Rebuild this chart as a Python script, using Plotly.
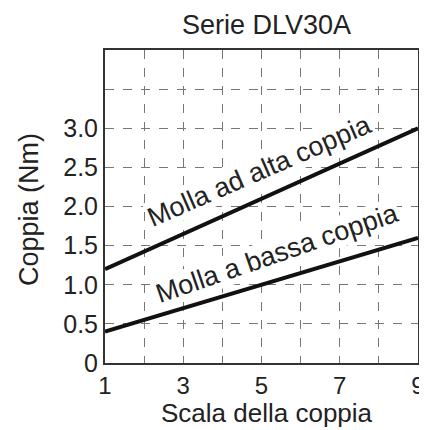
import plotly.graph_objects as go

scale_x = [1, 9]
high_torque = [1.2, 3.0]
low_torque = [0.4, 1.6]

x_tickvals = [1, 2, 3, 4, 5, 6, 7, 8, 9]
x_ticktext = ["1", "", "3", "", "5", "", "7", "", "9"]
y_tickvals = [0, 0.5, 1.0, 1.5, 2.0, 2.5, 3.0, 3.5, 4.0]
y_ticktext = ["0", "0.5", "1.0", "1.5", "2.0", "2.5", "3.0", "", ""]

label_high = "Molla ad alta coppia"
label_low = "Molla a bassa coppia"
title_text = "Serie DLV30A"
x_title = "Scala della coppia"
y_title = "Coppia (Nm)"

FONT = "Liberation Sans, Arial, sans-serif"
TXT = "#222222"

# page body has an 8px margin; size the figure so it fills the window
OFF = 8
W, H = 427 - OFF, 430 - OFF
L, R, T, B = 105 - OFF, W - (418 - OFF), 50 - OFF, H - (363 - OFF)
pw, ph = W - L - R, H - T - B


def px(xp):
    return (xp - OFF - L) / pw


def py(yp):
    return (H - B - (yp - OFF)) / ph


fig = go.Figure()
fig.add_trace(go.Scatter(x=scale_x, y=high_torque, mode="lines",
                         line=dict(color="#111111", width=4), showlegend=False))
fig.add_trace(go.Scatter(x=scale_x, y=low_torque, mode="lines",
                         line=dict(color="#111111", width=4), showlegend=False))

fig.add_annotation(x=4.94, y=2.45, text=label_high, showarrow=False, textangle=-23.5,
                   font=dict(size=27, color=TXT, family=FONT), bgcolor="white", borderpad=0)
fig.add_annotation(x=5.42, y=1.40, text=label_low, showarrow=False, textangle=-19,
                   font=dict(size=27, color=TXT, family=FONT), bgcolor="white", borderpad=0)

fig.add_annotation(xref="paper", yref="paper", x=px(266), y=py(25), text=title_text,
                   showarrow=False, xanchor="center", yanchor="middle",
                   font=dict(size=27, color=TXT, family=FONT))
fig.add_annotation(xref="paper", yref="paper", x=px(267), y=py(413), text=x_title,
                   showarrow=False, xanchor="center", yanchor="middle",
                   font=dict(size=26, color=TXT, family=FONT))
fig.add_annotation(xref="paper", yref="paper", x=px(29), y=py(210), text=y_title,
                   showarrow=False, xanchor="center", yanchor="middle", textangle=-90,
                   font=dict(size=27, color=TXT, family=FONT))

fig.update_layout(
    width=W, height=H,
    margin=dict(l=L, r=R, t=T, b=B, autoexpand=False),
    paper_bgcolor="white", plot_bgcolor="white",
    font=dict(family=FONT, color=TXT),
    xaxis=dict(range=[1, 9], tickvals=x_tickvals, ticktext=x_ticktext, automargin=False,
               showgrid=True, gridcolor="#777777", griddash="dash", gridwidth=1,
               showline=True, linecolor="#333333", linewidth=2, mirror=True,
               ticks="", tickfont=dict(size=24), zeroline=False),
    yaxis=dict(range=[0, 4], tickvals=y_tickvals, ticktext=y_ticktext, automargin=False,
               showgrid=True, gridcolor="#777777", griddash="dash", gridwidth=1,
               showline=True, linecolor="#333333", linewidth=2, mirror=True,
               ticks="", tickfont=dict(size=25), zeroline=False),
)

fig.write_html("out.html")
